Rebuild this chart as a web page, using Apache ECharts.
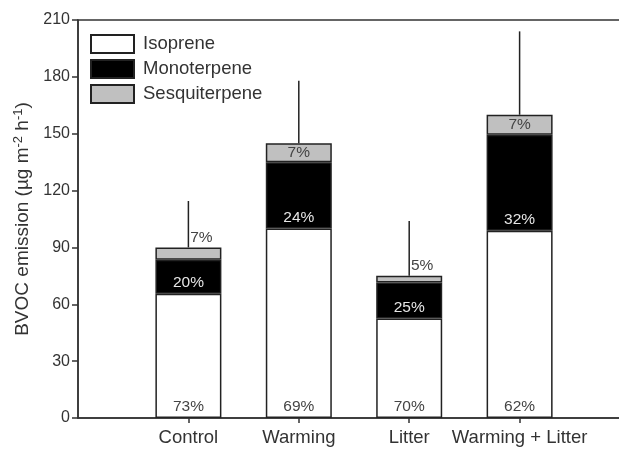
<!DOCTYPE html>
<html>
<head>
<meta charset="utf-8">
<style>
  html, body { margin: 0; padding: 0; background: #fff; }
  #chart { width: 619px; height: 449px; }
</style>
<script src="https://cdn.jsdelivr.net/npm/echarts@6/dist/echarts.min.js"></script>
</head>
<body>
<div id="chart"></div>
<script>
// Emission treatments on the x axis
const categories = ['Control', 'Warming', 'Litter', 'Warming + Litter'];

// Mean emission per compound class (µg m-2 h-1)
const isoprene = [65.5, 100, 52.5, 98.8];
const monoterpene = [18, 35, 19, 50.7];
const sesquiterpene = [6.5, 10, 3.6, 10.5];

// Upper end of the error bar for the total emission
const errorUpper = [114.5, 178, 104, 204];

// Y axis ticks
const yTicks = { min: 0, max: 210, step: 30 };

const FONT = '"Liberation Sans", Arial, Helvetica, sans-serif';
const TEXT = '#333';
const EDGE = '#222';

const totals = categories.map((_, i) => isoprene[i] + monoterpene[i] + sesquiterpene[i]);
const pct = (arr, i) => Math.round(arr[i] / totals[i] * 100) + '%';

// One empty slot on each side keeps the groups evenly spaced along the axis
const axisCats = [''].concat(categories, ['']);
const pad = arr => ['-'].concat(arr, ['-']);

function segData(arr, labelFor) {
  return pad(arr).map((v, k) => {
    if (v === '-') return '-';
    const i = k - 1;
    const item = { value: v };
    if (labelFor) item.label = labelFor(i);
    return item;
  });
}

const chart = echarts.init(document.getElementById('chart'));

const baseLabel = { show: true, fontFamily: FONT, fontSize: 15.5 };

chart.setOption({
  animation: false,
  backgroundColor: '#fff',
  grid: {
    left: 78, top: 20, width: 552, height: 398,
    outerBoundsMode: 'none',
    containLabel: false,
    show: true, borderColor: '#333', borderWidth: 1.5, backgroundColor: 'transparent'
  },
  legend: {
    orient: 'vertical',
    left: 90, top: 34, padding: 0,
    itemWidth: 43, itemHeight: 18, itemGap: 5,
    icon: 'rect',
    textStyle: { fontFamily: FONT, fontSize: 18.5, lineHeight: 18, color: TEXT, padding: [0, 0, 0, 4] },
    data: ['Isoprene', 'Monoterpene', 'Sesquiterpene']
  },
  xAxis: {
    type: 'category',
    data: axisCats,
    boundaryGap: false,
    axisLine: { lineStyle: { color: '#333', width: 1.5 } },
    axisTick: {
      length: 5, inside: false,
      interval: (idx) => idx > 0 && idx <= categories.length,
      lineStyle: { color: '#333', width: 1.5 }
    },
    axisLabel: { margin: 10, fontFamily: FONT, fontSize: 18.5, color: TEXT, interval: 0 },
    splitLine: { show: false }
  },
  yAxis: {
    type: 'value',
    min: yTicks.min, max: yTicks.max, interval: yTicks.step,
    name: '{a|BVOC emission (µg m}{s|-2}{a| h}{s|-1}{a|)}',
    nameLocation: 'middle',
    nameGap: 42,
    nameRotate: 90,
    nameTextStyle: {
      rich: {
        a: { fontFamily: FONT, fontSize: 19, color: TEXT },
        s: { fontFamily: FONT, fontSize: 13, color: TEXT, padding: [0, 0, 9, 0] }
      }
    },
    axisLine: { show: true, lineStyle: { color: '#333', width: 1.5 } },
    axisTick: { show: true, length: 6, inside: false, lineStyle: { color: '#333', width: 1.5 } },
    axisLabel: { margin: 8, fontFamily: FONT, fontSize: 16, color: TEXT },
    splitLine: { show: false }
  },
  series: [
    {
      name: 'Isoprene',
      type: 'bar',
      stack: 'total',
      barWidth: 66,
      itemStyle: { color: '#ffffff', borderColor: EDGE, borderWidth: 1.5 },
      label: Object.assign({}, baseLabel, {
        position: 'insideBottom', distance: 3, color: '#444',
        formatter: p => pct(isoprene, p.dataIndex - 1)
      }),
      data: segData(isoprene)
    },
    {
      name: 'Monoterpene',
      type: 'bar',
      stack: 'total',
      barWidth: 66,
      itemStyle: { color: '#000000', borderColor: EDGE, borderWidth: 1.5 },
      label: Object.assign({}, baseLabel, {
        position: 'insideBottom', distance: 3, color: '#e6e6e6',
        formatter: p => pct(monoterpene, p.dataIndex - 1)
      }),
      data: segData(monoterpene)
    },
    {
      name: 'Sesquiterpene',
      type: 'bar',
      stack: 'total',
      barWidth: 66,
      itemStyle: { color: '#c0c0c0', borderColor: EDGE, borderWidth: 1.5 },
      label: Object.assign({}, baseLabel, {
        position: 'inside', color: '#444',
        formatter: p => pct(sesquiterpene, p.dataIndex - 1)
      }),
      // thin segments carry their label just above the bar, beside the error bar
      data: segData(sesquiterpene, i => sesquiterpene[i] < 8
        ? { position: 'top', distance: 2, offset: [13, 0] }
        : { position: 'inside' })
    },
    {
      name: 'error',
      type: 'custom',
      z: 1,
      renderItem: (params, api) => {
        const x = api.value(0);
        const a = api.coord([x, api.value(1)]);
        const b = api.coord([x, api.value(2)]);
        return {
          type: 'line',
          shape: { x1: a[0], y1: a[1], x2: b[0], y2: b[1] },
          style: { stroke: EDGE, lineWidth: 1.5 }
        };
      },
      data: categories.map((c, i) => [i + 1, totals[i], errorUpper[i]])
    }
  ]
});
</script>
</body>
</html>
